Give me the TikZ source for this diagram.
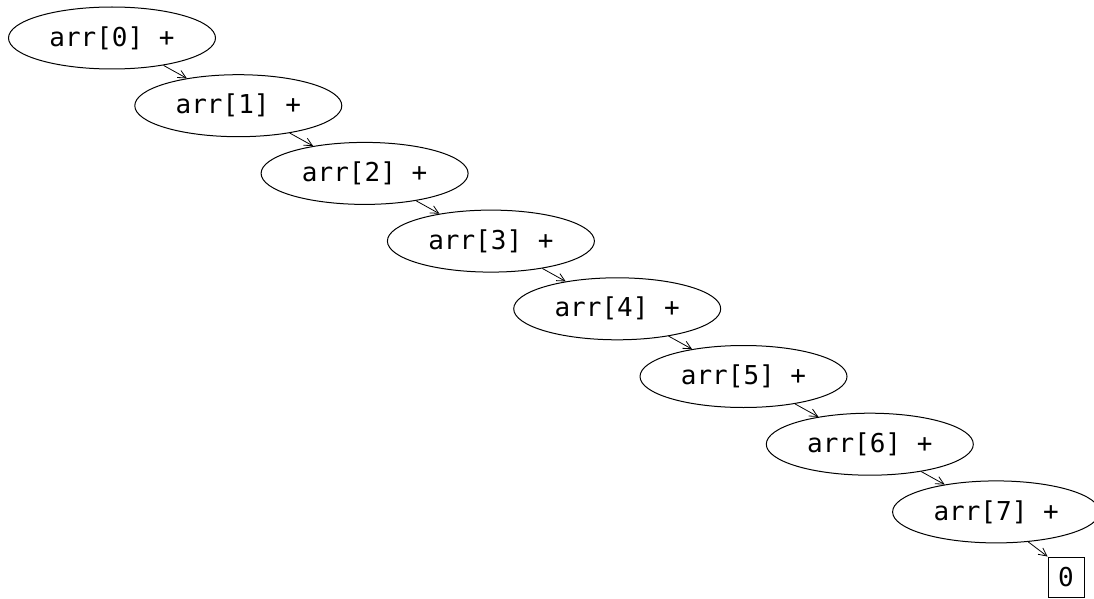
\documentclass[tikz,border=0pt]{standalone}
\usepackage{fontspec}
\setmonofont{DejaVu Sans Mono}
\usetikzlibrary{shapes.geometric,arrows.meta}
\begin{document}
\begin{tikzpicture}[x=1pt,y=-1pt,
  term/.style={ellipse,draw,line width=1pt,minimum width=207pt,minimum height=62pt,inner sep=0pt,font=\ttfamily\fontsize{26}{30}\selectfont},
  leaf/.style={rectangle,draw,line width=1pt,minimum width=36pt,minimum height=40pt,inner sep=0pt,font=\ttfamily\fontsize{26}{30}\selectfont},
  link/.style={line width=0.8pt,-{Straight Barb[length=8pt,width=8pt]}}]
\useasboundingbox (0,0) rectangle (1094,599);
\foreach \i in {0,...,7}{
  \node[term] (n\i) at ({112+126.3*\i},{38+67.7*\i}) {arr[\i] +};
}
\node[leaf] (z) at (1066,577) {0};
\foreach \i [evaluate=\i as \j using int(\i+1)] in {0,...,6}{
  \draw[link] (n\i.-28) -- (n\j.152);
}
\draw[link] (n7.-43) -- (z.north west);
\end{tikzpicture}
\end{document}
